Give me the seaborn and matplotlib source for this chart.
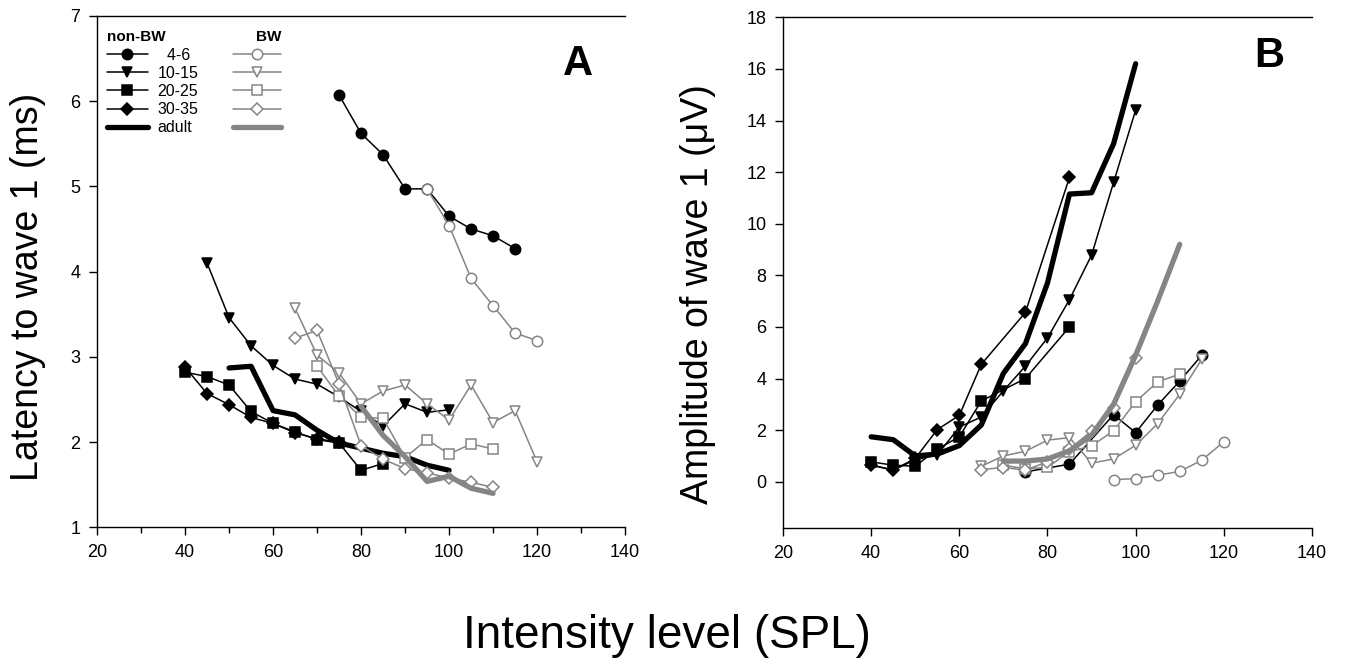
import matplotlib
matplotlib.use("Agg")
import matplotlib.pyplot as plt
from matplotlib.lines import Line2D
from matplotlib.ticker import MultipleLocator
import seaborn as sns

# ---- Panel A: latency to wave 1 (ms) ----
lat_x_46 = [75, 80, 85, 90, 95, 100, 105, 110, 115]
lat_46 = [6.07, 5.62, 5.37, 4.97, 4.97, 4.65, 4.50, 4.42, 4.27]
lat_x_1015 = [45, 50, 55, 60, 65, 70, 75, 80, 85, 90, 95, 100]
lat_1015 = [4.10, 3.46, 3.13, 2.90, 2.74, 2.68, 2.53, 2.36, 2.19, 2.45, 2.35, 2.38]
lat_x_2025 = [40, 45, 50, 55, 60, 65, 70, 75, 80, 85]
lat_2025 = [2.82, 2.77, 2.67, 2.36, 2.22, 2.12, 2.03, 1.99, 1.67, 1.75]
lat_x_3035 = [40, 45, 50, 55, 60, 65, 70, 75]
lat_3035 = [2.88, 2.57, 2.44, 2.29, 2.22, 2.11, 2.04, 2.00]
lat_x_adult = [50, 55, 60, 65, 70, 75, 80, 85, 90, 95, 100]
lat_adult = [2.87, 2.89, 2.37, 2.32, 2.14, 1.99, 1.93, 1.87, 1.83, 1.73, 1.67]

bw_lat_x_46 = [95, 100, 105, 110, 115, 120]
bw_lat_46 = [4.97, 4.54, 3.92, 3.60, 3.28, 3.19]
bw_lat_x_1015 = [65, 70, 75, 80, 85, 90, 95, 100, 105, 110, 115, 120]
bw_lat_1015 = [3.57, 3.02, 2.81, 2.45, 2.60, 2.67, 2.45, 2.26, 2.67, 2.23, 2.37, 1.77]
bw_lat_x_2025 = [70, 75, 80, 85, 90, 95, 100, 105, 110]
bw_lat_2025 = [2.89, 2.54, 2.29, 2.28, 1.82, 2.03, 1.86, 1.98, 1.92]
bw_lat_x_3035 = [65, 70, 75, 80, 85, 90, 95, 100, 105, 110]
bw_lat_3035 = [3.22, 3.31, 2.68, 1.96, 1.80, 1.69, 1.64, 1.58, 1.53, 1.47]
bw_lat_x_adult = [80, 85, 90, 95, 100, 105, 110]
bw_lat_adult = [2.42, 2.08, 1.83, 1.54, 1.60, 1.46, 1.40]

# ---- Panel B: amplitude of wave 1 (uV) ----
amp_x_46 = [75, 85, 95, 100, 105, 110, 115]
amp_46 = [0.38, 0.68, 2.60, 1.90, 2.97, 3.90, 4.90]
amp_x_1015 = [40, 45, 50, 55, 60, 65, 70, 75, 80, 85, 90, 95, 100]
amp_1015 = [0.65, 0.45, 0.85, 1.03, 2.12, 2.51, 3.52, 4.48, 5.57, 7.06, 8.78, 11.6, 14.4]
amp_x_2025 = [40, 45, 50, 55, 60, 65, 75, 85]
amp_2025 = [0.77, 0.64, 0.60, 1.26, 1.74, 3.13, 4.00, 6.00]
amp_x_3035 = [40, 45, 50, 55, 60, 65, 75, 85]
amp_3035 = [0.64, 0.45, 0.90, 2.02, 2.57, 4.55, 6.56, 11.8]
amp_x_adult = [40, 45, 50, 55, 60, 65, 70, 75, 80, 85, 90, 95, 100]
amp_adult = [1.74, 1.63, 1.00, 1.07, 1.40, 2.20, 4.20, 5.35, 7.70, 11.15, 11.2, 13.1, 16.2]

bw_amp_x_46 = [95, 100, 105, 110, 115, 120]
bw_amp_46 = [0.08, 0.12, 0.25, 0.40, 0.83, 1.55]
bw_amp_x_1015 = [65, 70, 75, 80, 85, 90, 95, 100, 105, 110, 115]
bw_amp_1015 = [0.60, 1.00, 1.18, 1.61, 1.71, 0.72, 0.88, 1.41, 2.25, 3.39, 4.75]
bw_amp_x_2025 = [70, 75, 80, 85, 90, 95, 100, 105, 110]
bw_amp_2025 = [0.64, 0.50, 0.56, 1.16, 1.39, 1.97, 3.10, 3.87, 4.17]
bw_amp_x_3035 = [65, 70, 75, 80, 85, 90, 95, 100]
bw_amp_3035 = [0.47, 0.55, 0.45, 0.77, 1.26, 1.97, 2.84, 4.80]
bw_amp_x_adult = [70, 75, 80, 85, 90, 95, 100, 105, 110]
bw_amp_adult = [0.80, 0.80, 0.88, 1.20, 1.80, 3.00, 4.90, 7.00, 9.20]

group_labels = ["  4-6", "10-15", "20-25", "30-35", "adult"]
group_markers = ["o", "v", "s", "D", None]

BLACK = "black"
GREY = "#858585"

sns.set_style("ticks")
plt.rcParams["font.family"] = ["Liberation Sans", "DejaVu Sans"]
plt.rcParams["text.color"] = "black"
plt.rcParams["axes.labelcolor"] = "black"


def line_style(marker, bw):
    color = GREY if bw else BLACK
    if marker is None:
        return dict(color=color, linewidth=3.8, solid_capstyle="round")
    size = 7.5 if marker != "D" else 6.5
    return dict(color=color, linewidth=1.1, marker=marker, markersize=size,
                markerfacecolor="white" if bw else BLACK,
                markeredgecolor=color, markeredgewidth=1.1)


def draw_panel(ax, nonbw, bw):
    for (xs, ys), m in zip(nonbw, group_markers):
        sns.lineplot(x=xs, y=ys, ax=ax, **line_style(m, False))
    for (xs, ys), m in zip(bw, group_markers):
        sns.lineplot(x=xs, y=ys, ax=ax, **line_style(m, True))


fig = plt.figure(figsize=(13.46, 6.66), dpi=100)
axA = fig.add_axes([0.0721, 0.208, 0.3923, 0.7684])
axB = fig.add_axes([0.5817, 0.207, 0.3930, 0.767])

draw_panel(axA,
           [(lat_x_46, lat_46), (lat_x_1015, lat_1015), (lat_x_2025, lat_2025),
            (lat_x_3035, lat_3035), (lat_x_adult, lat_adult)],
           [(bw_lat_x_46, bw_lat_46), (bw_lat_x_1015, bw_lat_1015),
            (bw_lat_x_2025, bw_lat_2025), (bw_lat_x_3035, bw_lat_3035),
            (bw_lat_x_adult, bw_lat_adult)])
draw_panel(axB,
           [(amp_x_46, amp_46), (amp_x_1015, amp_1015), (amp_x_2025, amp_2025),
            (amp_x_3035, amp_3035), (amp_x_adult, amp_adult)],
           [(bw_amp_x_46, bw_amp_46), (bw_amp_x_1015, bw_amp_1015),
            (bw_amp_x_2025, bw_amp_2025), (bw_amp_x_3035, bw_amp_3035),
            (bw_amp_x_adult, bw_amp_adult)])

for ax in (axA, axB):
    ax.set_xlim(20, 140)
    ax.xaxis.set_major_locator(MultipleLocator(20))
    ax.spines["right"].set_visible(False)
    for s in ("left", "bottom", "top"):
        ax.spines[s].set_linewidth(1.0)
        ax.spines[s].set_color("black")
    ax.tick_params(axis="both", which="major", labelsize=13, length=6,
                   width=1.0, direction="out", pad=6, colors="black")
    ax.set_xlabel("")

axA.set_ylim(1, 7)
axA.yaxis.set_major_locator(MultipleLocator(1))
axA.xaxis.set_minor_locator(MultipleLocator(10))
axA.tick_params(axis="x", which="minor", length=4, width=1.0, colors="black")
axA.set_ylabel("Latency to wave 1 (ms)", fontsize=27, color="black")
axA.yaxis.set_label_coords(-0.097, 0.47)

axB.set_ylim(-1.8, 18)
axB.set_yticks(range(0, 19, 2))
axB.set_ylabel("Amplitude of wave 1 (\u03bcV)", fontsize=27, color="black")
axB.yaxis.set_label_coords(-0.127, 0.458)

axA.text(0.91, 0.905, "A", transform=axA.transAxes, fontsize=30,
         fontweight="bold", ha="center", va="center", color="black")
axB.text(0.92, 0.925, "B", transform=axB.transAxes, fontsize=30,
         fontweight="bold", ha="center", va="center", color="black")

# legend: labelled non-BW column and unlabelled BW column
h_non = [Line2D([], [], **line_style(m, False)) for m in group_markers]
h_bw = [Line2D([], [], **line_style(m, True)) for m in group_markers]
leg1 = axA.legend(h_non, group_labels,
                  title="non-BW", loc="upper left", bbox_to_anchor=(0.0, 0.99),
                  frameon=False, fontsize=11.5, handlelength=2.6,
                  handletextpad=0.6, labelspacing=0.2, borderaxespad=0.2,
                  alignment="left", labelcolor="black",
                  title_fontproperties={"weight": "bold", "size": 11})
axA.add_artist(leg1)
axA.legend(h_bw, [""] * 5, title="BW", loc="upper left",
           bbox_to_anchor=(0.24, 0.99), frameon=False, fontsize=11.5,
           handlelength=3.0, handletextpad=0.0, labelspacing=0.2,
           borderaxespad=0.2, alignment="right",
           title_fontproperties={"weight": "bold", "size": 11})

fig.text(0.4955, 0.045, "Intensity level (SPL)", fontsize=33, ha="center",
         va="center", color="black")

fig.savefig("out.png", dpi=100)
